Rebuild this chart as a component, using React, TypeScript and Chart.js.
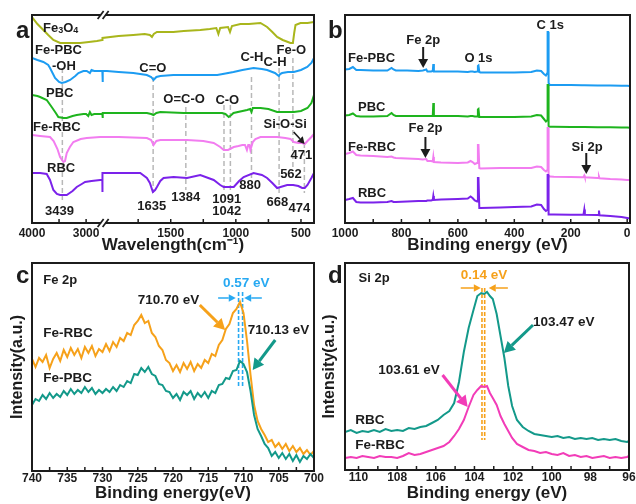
import React, { useEffect, useRef } from "react";
import { Chart, registerables } from "chart.js";

Chart.register(...registerables);

const FONT = "'Liberation Sans', Arial, Helvetica, sans-serif";
const INK = "#1c1c1c";

const C_OLIVE = "#a9b61c";
const C_BLUE = "#1c9cf2";
const C_GREEN = "#1eb41e";
const C_PINK = "#f27df0";
const C_PURPLE = "#7b22ea";
const C_ORANGE = "#f6a11a";
const C_TEAL = "#13998a";
const C_MAGENTA = "#f23cb8";
const C_SKY = "#27a9f2";
const C_DASH = "#b8b8b8";

// ---------------- Panel a : FTIR (broken wavenumber axis) ----------------
const A_TICKS = [4000, 3500, 3000, 1750, 1500, 1250, 1000, 750, 500];
const A_TICK_LABELS = [4000, 3000, 1500, 1000, 500];

const A_FE3O4_W = [4000, 3900, 3790, 3700, 3605, 3480, 3300, 3111, 2950, 2800, 2700, 2024, 1900, 1788, 1700, 1660, 1644, 1630, 1606, 1550, 1480, 1400, 1273, 1200, 1150, 1134, 1120, 1060, 1045, 1030, 965, 900, 811, 760, 720, 683, 640, 600, 581, 562, 552, 542, 504, 450, 400];
const A_FE3O4_V = [206, 199, 193, 188, 183, 180, 180, 180, 181, 182, 183, 185, 187, 188, 189, 188, 186, 189, 191, 191, 191, 192, 193, 194, 195, 189, 195, 196, 191, 197, 199, 199, 200, 196, 191, 186, 183, 181, 180, 180, 190, 198, 200, 200, 201];

const A_FEPBC_W = [4000, 3900, 3790, 3700, 3667, 3620, 3574, 3500, 3450, 3380, 3296, 3200, 3142, 3050, 2988, 2930, 2900, 2850, 2740, 2700, 2024, 2022, 2020, 1990, 1900, 1787, 1683, 1650, 1632, 1610, 1580, 1480, 1400, 1300, 1143, 1100, 1018, 950, 864, 800, 760, 700, 670, 660, 645, 600, 555, 500, 452, 420, 400];
const A_FEPBC_V = [165, 163, 161, 158, 155, 150, 145, 141, 140, 141, 143, 147, 150, 152, 152, 150, 153, 152, 152, 152, 152, 141, 152, 152, 151, 150, 148, 146, 143, 146, 147, 148, 148, 148, 148, 149, 151, 153, 155, 154, 153, 150, 147, 149, 150, 151, 151, 153, 156, 160, 165];

const A_PBC_W = [4000, 3900, 3850, 3728, 3636, 3560, 3513, 3420, 3358, 3250, 3173, 3050, 3000, 2960, 2930, 2900, 2850, 2740, 2700, 2024, 2022, 2020, 1965, 1800, 1683, 1650, 1632, 1610, 1580, 1400, 1273, 1106, 1080, 1055, 1035, 1018, 914, 890, 880, 870, 811, 750, 683, 600, 555, 500, 450, 420, 400];
const A_PBC_V = [128, 127, 126, 123, 116, 110, 106, 105, 105, 107, 108, 109, 109, 107, 111, 108, 109, 109, 109, 109, 105, 110, 110, 110, 110, 109, 108, 110, 111, 110, 110, 110, 109, 106, 108, 110, 113, 114, 111, 115, 115, 114, 111, 111, 111, 112, 115, 120, 128];

const A_FERBC_W = [4000, 3850, 3667, 3600, 3530, 3481, 3420, 3390, 3358, 3300, 3235, 3100, 2988, 2740, 2700, 2024, 1900, 1683, 1650, 1632, 1610, 1580, 1375, 1250, 1170, 1120, 1093, 1060, 1016, 980, 950, 930, 915, 905, 895, 888, 870, 850, 811, 720, 683, 620, 580, 555, 520, 491, 471, 450, 420, 400];
const A_FERBC_V = [88, 87, 86, 82, 74, 66, 61, 62, 70, 76, 81, 84, 85, 86, 86, 86, 86, 85, 83, 78, 82, 83, 83, 82, 80, 76, 73, 73, 76, 77, 78, 78, 73, 78, 78, 73, 81, 84, 86, 86, 86, 85, 84, 81, 80, 80, 79, 82, 86, 89];

const A_RBC_W = [4000, 3850, 3728, 3667, 3605, 3540, 3481, 3420, 3358, 3250, 3173, 3080, 3019, 2900, 2740, 2700, 2025, 2023, 1900, 1734, 1683, 1660, 1637, 1620, 1606, 1580, 1555, 1478, 1375, 1273, 1170, 1120, 1093, 1016, 975, 940, 864, 800, 760, 720, 683, 657, 606, 560, 520, 491, 471, 450, 420, 400];
const A_RBC_V = [50, 50, 49, 43, 33, 29, 28, 28, 28, 32, 36, 39, 41, 42, 43, 43, 31, 50, 50, 50, 45, 40, 31, 33, 36, 42, 45, 46, 45, 48, 43, 38, 36, 36, 42, 46, 50, 48, 45, 40, 35, 36, 38, 38, 37, 35, 35, 38, 45, 50];

// ---------------- Panel b : XPS survey ----------------
const B_TICKS = [1000, 900, 800, 700, 600, 500, 400, 300, 200, 100, 0];
const B_TICK_LABELS = [1000, 800, 600, 400, 200, 0];
const B_BE = [1000, 985, 972, 960, 945, 900, 850, 835, 828, 820, 780, 740, 724, 712, 708, 695, 689, 687, 685, 660, 600, 565, 555, 548, 540, 532, 529, 527, 524, 520, 450, 400, 340, 320, 305, 295, 288, 283, 282, 280, 278.5, 274, 260, 200, 160, 155, 152, 150, 105, 102, 100, 98, 60, 20, 0, -10];
const B_FEPBC = [153.5, 154, 156, 153, 153, 152.5, 152.5, 155, 153.5, 152.5, 152.5, 152, 152.5, 153.5, 151.5, 151.5, 152, 159, 151.5, 151.5, 151.5, 151, 151.5, 151.5, 151, 151.5, 157, 157.5, 151, 150.5, 150.5, 150.5, 151, 152.5, 152, 149, 147.5, 150, 191, 191, 140, 138, 138, 138, 137.8, 137.8, 137.8, 137.8, 137.6, 137.6, 137.6, 137.6, 137.5, 137.3, 137.2, 137];
const B_PBC = [107.5, 108, 109.5, 107, 106.5, 106.5, 107, 110, 108, 107, 107, 107, 107, 107, 107, 107, 107, 120, 107, 107, 107, 106.5, 107, 107, 106.5, 106.5, 113.5, 114, 106, 106, 106, 106, 106.5, 108, 107.5, 104, 101.5, 103, 138, 138, 97, 96.3, 96.2, 96, 96, 96, 96, 96, 95.8, 95.8, 95.8, 95.8, 95.7, 95.6, 95.5, 95.3];
const B_FERBC = [69, 70, 71.5, 68, 67.5, 67, 66, 66.5, 65.5, 65, 64.5, 64, 63.5, 64, 62, 62, 61.5, 66, 61, 60.5, 60, 60.5, 62, 61, 59, 60, 78, 78, 55, 54.5, 55, 55, 55, 56.5, 56, 53, 51.5, 53, 95, 95, 46.5, 46.5, 46.3, 46, 45.8, 45.8, 47.5, 45.8, 45, 45, 46.5, 44.8, 44, 43.5, 43, 43];
const B_RBC = [23, 24, 25, 21, 20.5, 20.5, 21, 22, 21, 21, 21.5, 22, 22, 22, 22.5, 22.5, 23, 27, 23, 23.5, 24, 24.5, 26.5, 25, 22.5, 21.5, 45, 45, 15, 15, 15.5, 16, 16.5, 18.5, 18, 14, 12, 13, 48, 48, 8.5, 8.5, 8.4, 8.3, 8.2, 8.2, 13.5, 8.2, 8, 8, 12.5, 7.8, 7, 6, 5, 4.5];

// ---------------- Panel c : Fe 2p ----------------
const C_TICKS = [740, 737.5, 735, 732.5, 730, 727.5, 725, 722.5, 720, 717.5, 715, 712.5, 710, 707.5, 705, 702.5, 700];
const C_TICK_LABELS = [740, 735, 730, 725, 720, 715, 710, 705, 700];
const C_BE = [740, 739.5, 739, 738.5, 738, 737.5, 737, 736.5, 736, 735.5, 735, 734.5, 734, 733.5, 733, 732.5, 732, 731.5, 731, 730.5, 730, 729.5, 729, 728.5, 728, 727.5, 727, 726.5, 726, 725.5, 725, 724.5, 724, 723.5, 723, 722.5, 722, 721.5, 721, 720.5, 720, 719.5, 719, 718.5, 718, 717.5, 717, 716.5, 716, 715.5, 715, 714.5, 714, 713.5, 713, 712.5, 712, 711.5, 711, 710.5, 710, 709.5, 709, 708.5, 708, 707.5, 707, 706.5, 706, 705.5, 705, 704.5, 704, 703.5, 703, 702.5, 702, 701.5, 701, 700.5, 700];
const C_FERBC = [112, 104, 113, 109, 116, 103, 112, 118, 110, 121, 114, 123, 116, 122, 113, 124, 118, 125, 115, 122, 119, 127, 120, 129, 124, 133, 130, 138, 136, 146, 150, 156, 148, 150, 138, 134, 125, 121, 111, 108, 100, 106, 99, 108, 102, 109, 100, 107, 103, 111, 108, 117, 115, 126, 131, 142, 147, 158, 162, 169, 158, 130, 96, 66, 50, 42, 36, 29, 31, 24, 28, 22, 27, 20, 25, 19, 23, 17, 21, 16, 20];
const C_FEPBC = [66, 72, 70, 76, 72, 78, 73, 77, 74, 80, 76, 82, 77, 81, 78, 84, 79, 83, 77, 81, 78, 82, 79, 84, 80, 86, 84, 90, 88, 97, 96, 103, 99, 104, 97, 95, 87, 86, 80, 79, 73, 77, 71, 79, 76, 80, 72, 78, 74, 79, 73, 80, 78, 86, 87, 93, 92, 100, 101, 110, 107, 99, 80, 56, 42, 35, 27, 23, 15, 19, 13, 18, 12, 17, 10, 16, 9, 15, 12, 17, 13];

// ---------------- Panel d : Si 2p ----------------
const D_TICKS = [110, 109, 108, 107, 106, 105, 104, 103, 102, 101, 100, 99, 98, 97, 96];
const D_TICK_LABELS = [110, 108, 106, 104, 102, 100, 98, 96];
const D_BE = [110.7, 110.4, 110.1, 109.8, 109.5, 109.2, 108.9, 108.6, 108.3, 108.0, 107.7, 107.4, 107.1, 106.8, 106.5, 106.2, 105.9, 105.6, 105.3, 105.05, 104.8, 104.55, 104.3, 104.05, 103.85, 103.65, 103.5, 103.35, 103.2, 103.05, 102.85, 102.65, 102.45, 102.25, 102.05, 101.8, 101.5, 101.2, 100.9, 100.6, 100.3, 100.0, 99.7, 99.4, 99.1, 98.8, 98.5, 98.2, 97.9, 97.6, 97.3, 97.0, 96.7, 96.4, 96.1, 96.0];
const D_RBC = [38, 40, 37, 39, 38, 40, 38, 41, 39, 40, 39, 42, 41, 43, 44, 47, 50, 55, 59, 67, 88, 118, 142, 160, 174, 177, 176, 178, 174, 171, 156, 134, 112, 84, 64, 50, 43, 39, 36, 35, 34, 33, 34, 32, 33, 31, 32, 31, 32, 30, 31, 30, 31, 29, 28, 29];
const D_FERBC = [12, 13, 12, 14, 13, 12, 14, 13, 13, 12, 14, 17, 15, 16, 18, 20, 22, 24, 28, 34, 41, 50, 63, 75, 80, 84, 83, 84, 77, 72, 65, 54, 46, 39, 32, 26, 23, 20, 19, 17, 18, 16, 15, 17, 14, 15, 13, 14, 12, 13, 14, 12, 13, 12, 13, 14];

// ---------- broken axis mapping for panel a ----------
const A_HI = 2700;
const A_LO = 2025;
function aToV(w: number) {
  return w >= A_HI ? (4000 - w) * 0.054 : 70.2 + (A_LO - w) * 0.13;
}
function aFromV(v: number) {
  return v <= 70.2 ? 4000 - v / 0.054 : A_LO - (v - 70.2) / 0.13;
}
const ident = (v: number) => v;

type Txt = { t: string; x: number; y: number; c?: string; al?: CanvasTextAlign; s?: number; sub?: boolean };
type Arw = { x1: number; y1: number; x2: number; y2: number; c: string; w: number; h: number };
type VL = { x: number; y1: number; y2: number; c: string; w: number; dash: number[] };

function drawArrow(ctx: CanvasRenderingContext2D, x1: number, y1: number, x2: number, y2: number, c: string, lw: number, head: number) {
  const ang = Math.atan2(y2 - y1, x2 - x1);
  const bx = x2 - head * Math.cos(ang);
  const by = y2 - head * Math.sin(ang);
  ctx.save();
  ctx.strokeStyle = c;
  ctx.fillStyle = c;
  ctx.lineWidth = lw;
  ctx.beginPath();
  ctx.moveTo(x1, y1);
  ctx.lineTo(bx, by);
  ctx.stroke();
  const hw = head * 0.55;
  ctx.beginPath();
  ctx.moveTo(x2, y2);
  ctx.lineTo(bx + hw * Math.sin(ang), by - hw * Math.cos(ang));
  ctx.lineTo(bx - hw * Math.sin(ang), by + hw * Math.cos(ang));
  ctx.closePath();
  ctx.fill();
  ctx.restore();
}

function decor(o: {
  letter: string;
  lsize: number;
  ldx: number;
  ldy: number;
  texts: Txt[];
  arrows: Arw[];
  vlines: VL[];
  xmap: (v: number) => number;
  brk?: number;
}) {
  return {
    id: "decor",
    beforeDatasetsDraw(chart: any) {
      const { ctx, scales } = chart;
      const xs = scales.x;
      const ys = scales.y;
      ctx.save();
      for (const l of o.vlines) {
        const px = xs.getPixelForValue(o.xmap(l.x));
        ctx.strokeStyle = l.c;
        ctx.lineWidth = l.w;
        ctx.setLineDash(l.dash);
        ctx.beginPath();
        ctx.moveTo(px, ys.getPixelForValue(l.y1));
        ctx.lineTo(px, ys.getPixelForValue(l.y2));
        ctx.stroke();
      }
      ctx.restore();
    },
    afterDraw(chart: any) {
      const { ctx, chartArea, scales } = chart;
      const xs = scales.x;
      const ys = scales.y;
      const { left, top, right, bottom } = chartArea;
      ctx.save();
      ctx.strokeStyle = INK;
      ctx.lineWidth = 1.5;
      for (const t of xs.ticks) {
        const px = xs.getPixelForValue(t.value);
        ctx.beginPath();
        ctx.moveTo(px, bottom);
        ctx.lineTo(px, bottom - 4);
        ctx.stroke();
      }
      ctx.lineWidth = 2;
      ctx.strokeRect(left, top, right - left, bottom - top);
      if (o.brk !== undefined) {
        const bx = xs.getPixelForValue(o.brk);
        for (const yy of [top, bottom]) {
          ctx.fillStyle = "#ffffff";
          ctx.fillRect(bx - 2, yy - 2, 4, 4);
          ctx.strokeStyle = INK;
          ctx.lineWidth = 1.7;
          for (const dx of [-2.5, 2.5]) {
            ctx.beginPath();
            ctx.moveTo(bx + dx - 3, yy + 4);
            ctx.lineTo(bx + dx + 3, yy - 4);
            ctx.stroke();
          }
        }
      }
      ctx.textBaseline = "middle";
      for (const t of o.texts) {
        const size = t.s ?? 13;
        const px = xs.getPixelForValue(o.xmap(t.x));
        const py = ys.getPixelForValue(t.y);
        ctx.fillStyle = t.c ?? INK;
        if (t.sub) {
          let cx = px;
          for (const ch of t.t) {
            const isDigit = ch >= "0" && ch <= "9";
            const fs = isDigit ? Math.round(size * 0.7) : size;
            ctx.font = `bold ${fs}px ${FONT}`;
            ctx.textAlign = "left";
            ctx.fillText(ch, cx, py + (isDigit ? 2.5 : 0));
            cx += ctx.measureText(ch).width;
          }
        } else {
          ctx.font = `bold ${size}px ${FONT}`;
          ctx.textAlign = t.al ?? "left";
          ctx.fillText(t.t, px, py);
        }
      }
      for (const a of o.arrows) {
        drawArrow(
          ctx,
          xs.getPixelForValue(o.xmap(a.x1)),
          ys.getPixelForValue(a.y1),
          xs.getPixelForValue(o.xmap(a.x2)),
          ys.getPixelForValue(a.y2),
          a.c,
          a.w,
          a.h
        );
      }
      ctx.fillStyle = INK;
      ctx.font = `bold ${o.lsize}px ${FONT}`;
      ctx.textAlign = "left";
      ctx.textBaseline = "alphabetic";
      ctx.fillText(o.letter, left + o.ldx, top + o.ldy);
      ctx.restore();
    },
  };
}

function series(xs: number[], ys: number[], color: string, map: (v: number) => number, bw = 2) {
  return {
    data: xs.map((x, i) => ({ x: map(x), y: ys[i] })),
    borderColor: color,
    borderWidth: bw,
    pointRadius: 0,
    tension: 0,
    fill: false,
  };
}

function makeChart(
  canvas: HTMLCanvasElement,
  p: {
    datasets: any[];
    xmin: number;
    xmax: number;
    reverse: boolean;
    ticks: number[];
    label: (v: number) => string;
    xTitle: string;
    xH: number;
    tickPad: number;
    ymax: number;
    yTitle?: string;
    yW?: number;
    padding: { left: number; top: number; right: number; bottom: number };
    plugin: any;
  }
) {
  return new Chart(canvas, {
    type: "line",
    data: { datasets: p.datasets },
    options: {
      responsive: false,
      animation: false,
      devicePixelRatio: 1,
      events: [],
      layout: { padding: p.padding },
      plugins: { legend: { display: false }, tooltip: { enabled: false } },
      scales: {
        x: {
          type: "linear",
          min: p.xmin,
          max: p.xmax,
          reverse: p.reverse,
          grid: { display: false, drawTicks: false },
          border: { display: false },
          afterBuildTicks: (s: any) => {
            s.ticks = p.ticks.map((v) => ({ value: v }));
          },
          afterFit: (s: any) => {
            s.height = p.xH;
          },
          ticks: {
            autoSkip: false,
            maxRotation: 0,
            padding: p.tickPad,
            color: INK,
            font: { family: FONT, size: 12, weight: "bold" },
            callback: (v: any) => p.label(Number(v)),
          },
          title: {
            display: true,
            text: p.xTitle,
            color: INK,
            font: { family: FONT, size: 17, weight: "bold" },
            padding: 0,
          },
        },
        y: {
          type: "linear",
          min: 0,
          max: p.ymax,
          display: p.yTitle ? true : false,
          grid: { display: false, drawTicks: false },
          border: { display: false },
          ticks: { display: false },
          afterFit: (s: any) => {
            if (p.yW !== undefined) s.width = p.yW;
          },
          title: {
            display: !!p.yTitle,
            text: p.yTitle ?? "",
            color: INK,
            font: { family: FONT, size: 16, weight: "bold" },
            padding: 0,
          },
        },
      },
    } as any,
    plugins: [p.plugin],
  });
}

const near = (list: number[], v: number) => list.some((L) => Math.abs(L - v) < 1e-6);

function buildA(cv: HTMLCanvasElement) {
  return makeChart(cv, {
    datasets: [
      series(A_FE3O4_W, A_FE3O4_V, C_OLIVE, aToV),
      series(A_FEPBC_W, A_FEPBC_V, C_BLUE, aToV),
      series(A_PBC_W, A_PBC_V, C_GREEN, aToV),
      series(A_FERBC_W, A_FERBC_V, C_PINK, aToV),
      series(A_RBC_W, A_RBC_V, C_PURPLE, aToV),
    ],
    xmin: aToV(4000),
    xmax: aToV(400),
    reverse: false,
    ticks: A_TICKS.map(aToV),
    label: (v) => {
      const w = Math.round(aFromV(v));
      return A_TICK_LABELS.includes(w) ? String(w) : "";
    },
    xTitle: "Wavelength(cm\u207B\u00B9)",
    xH: 33,
    tickPad: 3,
    ymax: 208,
    padding: { left: 32, top: 15, right: 322, bottom: 504 - 223 - 33 },
    plugin: decor({
      letter: "a",
      lsize: 24,
      ldx: -16,
      ldy: 23,
      xmap: aToV,
      brk: aToV(A_HI) + 0.8,
      vlines: [
        { x: 3439, y1: 155, y2: 23, c: C_DASH, w: 1.5, dash: [5, 3] },
        { x: 1635, y1: 146, y2: 30, c: C_DASH, w: 1.5, dash: [5, 3] },
        { x: 1384, y1: 116, y2: 33, c: C_DASH, w: 1.5, dash: [5, 3] },
        { x: 1091, y1: 118, y2: 30, c: C_DASH, w: 1.5, dash: [5, 3] },
        { x: 1042, y1: 118, y2: 30, c: C_DASH, w: 1.5, dash: [5, 3] },
        { x: 880, y1: 146, y2: 44, c: C_DASH, w: 1.5, dash: [5, 3] },
        { x: 668, y1: 155, y2: 30, c: C_DASH, w: 1.5, dash: [5, 3] },
        { x: 562, y1: 165, y2: 56, c: C_DASH, w: 1.5, dash: [5, 3] },
        { x: 474, y1: 80, y2: 30, c: C_DASH, w: 1.5, dash: [5, 3] },
      ],
      texts: [
        { t: "Fe3O4", x: 3796, y: 195, sub: true },
        { t: "Fe-PBC", x: 3944, y: 173 },
        { t: "-OH", x: 3630, y: 157 },
        { t: "C=O", x: 1741, y: 155 },
        { t: "C-H", x: 965, y: 166 },
        { t: "C-H", x: 788, y: 161 },
        { t: "Fe-O", x: 688, y: 173 },
        { t: "PBC", x: 3741, y: 130 },
        { t: "O=C-O", x: 1557, y: 124 },
        { t: "C-O", x: 1157, y: 123 },
        { t: "Fe-RBC", x: 3981, y: 96 },
        { t: "Si-O-Si", x: 788, y: 99 },
        { t: "471", x: 581, y: 68 },
        { t: "RBC", x: 3722, y: 55 },
        { t: "3439", x: 3759, y: 12 },
        { t: "1635", x: 1757, y: 17 },
        { t: "1384", x: 1496, y: 26 },
        { t: "1091", x: 1181, y: 24 },
        { t: "1042", x: 1181, y: 12 },
        { t: "880", x: 973, y: 38 },
        { t: "562", x: 660, y: 49 },
        { t: "668", x: 765, y: 21 },
        { t: "474", x: 596, y: 15 },
      ],
      arrows: [{ x1: 556, y1: 91, x2: 472, y2: 79, c: INK, w: 1.6, h: 7 }],
    }),
  });
}

function buildB(cv: HTMLCanvasElement) {
  return makeChart(cv, {
    datasets: [
      series(B_BE, B_RBC, C_PURPLE, ident),
      series(B_BE, B_FERBC, C_PINK, ident),
      series(B_BE, B_PBC, C_GREEN, ident),
      series(B_BE, B_FEPBC, C_BLUE, ident),
    ],
    xmin: -10,
    xmax: 1000,
    reverse: true,
    ticks: B_TICKS,
    label: (v) => (near(B_TICK_LABELS, v) ? String(Math.round(v)) : ""),
    xTitle: "Binding energy (eV)",
    xH: 33,
    tickPad: 3,
    ymax: 208,
    padding: { left: 345, top: 15, right: 6, bottom: 504 - 223 - 33 },
    plugin: decor({
      letter: "b",
      lsize: 24,
      ldx: -17,
      ldy: 23,
      xmap: ident,
      vlines: [],
      texts: [
        { t: "C 1s", x: 273, y: 198, al: "center" },
        { t: "Fe 2p", x: 723, y: 183, al: "center" },
        { t: "Fe-PBC", x: 989, y: 165 },
        { t: "O 1s", x: 527, y: 165, al: "center" },
        { t: "PBC", x: 954, y: 116 },
        { t: "Fe 2p", x: 715, y: 95, al: "center" },
        { t: "Fe-RBC", x: 989, y: 76 },
        { t: "Si 2p", x: 142, y: 76, al: "center" },
        { t: "RBC", x: 954, y: 30 },
      ],
      arrows: [
        { x1: 723, y1: 176, x2: 723, y2: 155, c: INK, w: 2, h: 9 },
        { x1: 715, y1: 86, x2: 715, y2: 65, c: INK, w: 2, h: 9 },
        { x1: 145, y1: 70, x2: 145, y2: 49, c: INK, w: 2, h: 9 },
      ],
    }),
  });
}

function buildC(cv: HTMLCanvasElement) {
  return makeChart(cv, {
    datasets: [series(C_BE, C_FEPBC, C_TEAL, ident), series(C_BE, C_FERBC, C_ORANGE, ident)],
    xmin: 700,
    xmax: 740,
    reverse: true,
    ticks: C_TICKS,
    label: (v) => (near(C_TICK_LABELS, v) ? String(Math.round(v)) : ""),
    xTitle: "Binding energy(eV)",
    xH: 33,
    tickPad: 0,
    ymax: 208,
    yTitle: "Intensity(a.u.)",
    yW: 24,
    padding: { left: 8, top: 263, right: 322, bottom: 0 },
    plugin: decor({
      letter: "c",
      lsize: 24,
      ldx: -16,
      ldy: 20,
      xmap: ident,
      vlines: [
        { x: 710.7, y1: 179, y2: 84, c: C_SKY, w: 1.6, dash: [4, 2] },
        { x: 710.13, y1: 179, y2: 84, c: C_SKY, w: 1.6, dash: [4, 2] },
      ],
      texts: [
        { t: "Fe 2p", x: 738.4, y: 191, s: 13 },
        { t: "0.57 eV", x: 709.6, y: 188, al: "center", c: C_SKY, s: 13.5 },
        { t: "710.70 eV", x: 725, y: 171, s: 13.5 },
        { t: "710.13 eV", x: 709.4, y: 141, s: 13.5 },
        { t: "Fe-RBC", x: 738.4, y: 138, s: 13.5 },
        { t: "Fe-PBC", x: 738.4, y: 93, s: 13.5 },
      ],
      arrows: [
        { x1: 713.6, y1: 173, x2: 711.1, y2: 173, c: C_SKY, w: 1.5, h: 7 },
        { x1: 707.4, y1: 173, x2: 709.9, y2: 173, c: C_SKY, w: 1.5, h: 7 },
        { x1: 716.2, y1: 166, x2: 712.6, y2: 141, c: C_ORANGE, w: 3, h: 11 },
        { x1: 705.5, y1: 131, x2: 708.7, y2: 101, c: C_TEAL, w: 3, h: 11 },
      ],
    }),
  });
}

function buildD(cv: HTMLCanvasElement) {
  return makeChart(cv, {
    datasets: [series(D_BE, D_RBC, C_TEAL, ident), series(D_BE, D_FERBC, C_MAGENTA, ident)],
    xmin: 96,
    xmax: 110.7,
    reverse: true,
    ticks: D_TICKS,
    label: (v) => (near(D_TICK_LABELS, v) ? String(Math.round(v)) : ""),
    xTitle: "Binding energy (eV)",
    xH: 34,
    tickPad: 0,
    ymax: 207,
    yTitle: "Intensity(a.u.)",
    yW: 25,
    padding: { left: 320, top: 263, right: 7, bottom: 0 },
    plugin: decor({
      letter: "d",
      lsize: 24,
      ldx: -17,
      ldy: 20,
      xmap: ident,
      vlines: [
        { x: 103.61, y1: 182, y2: 30, c: C_ORANGE, w: 1.6, dash: [4, 2] },
        { x: 103.47, y1: 182, y2: 30, c: C_ORANGE, w: 1.6, dash: [4, 2] },
      ],
      texts: [
        { t: "Si 2p", x: 110.0, y: 192, s: 13 },
        { t: "0.14 eV", x: 103.5, y: 195, al: "center", c: C_ORANGE, s: 13.5 },
        { t: "103.47 eV", x: 100.97, y: 148, s: 13.5 },
        { t: "103.61 eV", x: 108.98, y: 100, s: 13.5 },
        { t: "RBC", x: 110.17, y: 50, s: 13.5 },
        { t: "Fe-RBC", x: 110.17, y: 25, s: 13.5 },
      ],
      arrows: [
        { x1: 104.71, y1: 182, x2: 103.67, y2: 182, c: C_ORANGE, w: 1.5, h: 7 },
        { x1: 102.27, y1: 182, x2: 103.26, y2: 182, c: C_ORANGE, w: 1.5, h: 7 },
        { x1: 100.97, y1: 145, x2: 102.48, y2: 117, c: C_TEAL, w: 3, h: 11 },
        { x1: 105.65, y1: 95, x2: 104.35, y2: 63, c: C_MAGENTA, w: 3, h: 11 },
      ],
    }),
  });
}

export default function App() {
  const ra = useRef<HTMLCanvasElement>(null);
  const rb = useRef<HTMLCanvasElement>(null);
  const rc = useRef<HTMLCanvasElement>(null);
  const rd = useRef<HTMLCanvasElement>(null);

  useEffect(() => {
    Chart.defaults.font.family = FONT;
    const charts = [buildA(ra.current!), buildB(rb.current!), buildC(rc.current!), buildD(rd.current!)];
    return () => charts.forEach((c) => c.destroy());
  }, []);

  const cs: React.CSSProperties = { position: "absolute", left: 0, top: 0, width: 636, height: 504, display: "block" };
  return (
    <div style={{ position: "absolute", left: 0, top: 0, width: 636, height: 504, background: "#ffffff" }}>
      <canvas ref={ra} width={636} height={504} style={cs} />
      <canvas ref={rb} width={636} height={504} style={cs} />
      <canvas ref={rc} width={636} height={504} style={cs} />
      <canvas ref={rd} width={636} height={504} style={cs} />
    </div>
  );
}
